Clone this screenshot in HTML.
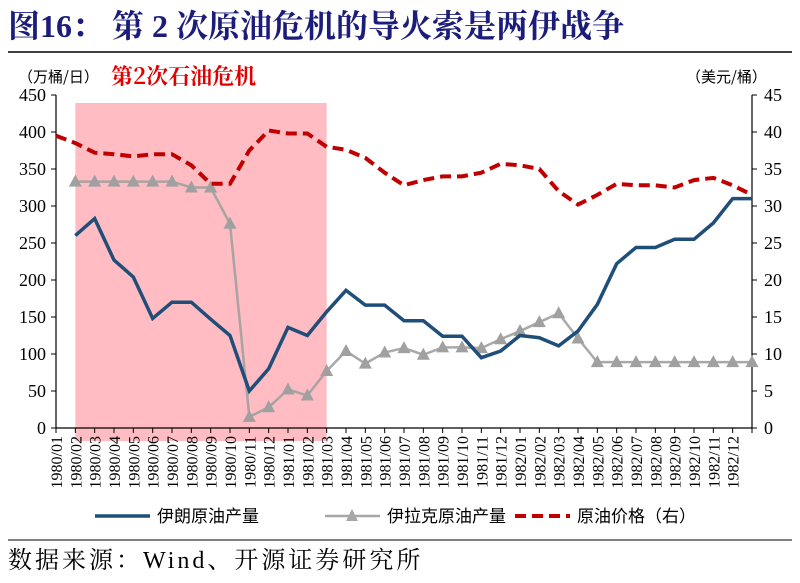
<!DOCTYPE html>
<html><head><meta charset="utf-8"><style>
body{margin:0;background:#fff;width:800px;height:578px;overflow:hidden;font-family:"Liberation Serif","Noto Serif CJK SC",serif}
</style></head><body>
<svg width="800" height="578" xmlns="http://www.w3.org/2000/svg">
<text x="8" y="37" font-size="32" font-weight="bold" fill="#1c1c7a" font-family="Liberation Serif,Noto Serif CJK SC,serif">图16：&#160;第 2 次原油危机的导火索是两伊战争</text>
<line x1="8" y1="52" x2="792" y2="52" stroke="#000" stroke-width="1.5"/>
<text x="18" y="82" font-size="15" fill="#000" font-family="Noto Sans CJK SC,sans-serif">（万桶/日）</text>
<text x="111" y="84" font-size="22" font-weight="bold" fill="#e00000" font-family="Noto Serif CJK SC,serif">第2次石油危机</text>
<text x="686" y="82" font-size="15" fill="#000" font-family="Noto Sans CJK SC,sans-serif">（美元/桶）</text>
<g id="plot"></g>
<line x1="8" y1="540" x2="792" y2="540" stroke="#000" stroke-width="1"/>
<text x="8" y="568" font-size="24" letter-spacing="3" fill="#000" font-family="Liberation Serif,Noto Serif CJK SC,serif">数据来源：Wind、开源证券研究所</text>
</svg>
<script>
const categories=["1980/01","1980/02","1980/03","1980/04","1980/05","1980/06","1980/07","1980/08","1980/09","1980/10","1980/11","1980/12","1981/01","1981/02","1981/03","1981/04","1981/05","1981/06","1981/07","1981/08","1981/09","1981/10","1981/11","1981/12","1982/01","1982/02","1982/03","1982/04","1982/05","1982/06","1982/07","1982/08","1982/09","1982/10","1982/11","1982/12",""];
const iranOutput=[null,260,283,227,204,148,170,170,147,125,50,80,136,125,157,186,166,166,145,145,124,124,95,104,125,122,111,131,167,222,244,244,255,255,277,310,310];
const iraqOutput=[null,333,333,333,333,333,333,325,325,276,15,28,52,44,77,104,87,102,108,99,109,109,108,120,131,143,155,121,89,89,89,89,89,89,89,89,89];
const oilPrice=[39.5,38.5,37.2,37,36.7,37,37,35.5,33,33,37.5,40.2,39.8,39.8,38,37.6,36.5,34.5,32.8,33.5,34,34,34.5,35.7,35.5,35,32,30.2,31.5,33,32.8,32.8,32.5,33.5,33.8,32.8,31.5];
const leftTicks=[0,50,100,150,200,250,300,350,400,450];
const rightTicks=[0,5,10,15,20,25,30,35,40,45];
const crisisRange=["1980/02","1981/03"];
const NS="http://www.w3.org/2000/svg";
const X0=56,X1=752,Y0=428,Y1=95;
const xs=i=>X0+i*(X1-X0)/(categories.length-1);
const yl=v=>Y0-v*(Y0-Y1)/450;
const yr=v=>Y0-v*(Y0-Y1)/45;
const g=document.getElementById('plot');
function mk(t,a){const e=document.createElementNS(NS,t);for(const k in a)e.setAttribute(k,a[k]);g.appendChild(e);return e;}
let a=categories.indexOf(crisisRange[0]),b=categories.indexOf(crisisRange[1]);
let sh=mk('rect',{x:xs(a),y:103,width:xs(b)-xs(a),height:338,fill:'#ffbcc2'});


let ax=mk('path',{d:`M${X0},${Y1}V${Y0}H${X1}V${Y1}`,stroke:'#000','stroke-width':1.2,fill:'none'});


leftTicks.forEach(v=>{mk('line',{x1:X0-5,x2:X0,y1:yl(v),y2:yl(v),stroke:'#000'});
 const t=mk('text',{x:X0-10,y:yl(v)+6,'text-anchor':'end','font-size':18});t.textContent=v;
 
 });
rightTicks.forEach(v=>{mk('line',{x1:X1,x2:X1+5,y1:yr(v),y2:yr(v),stroke:'#000'});
 const t=mk('text',{x:X1+12,y:yr(v)+6,'font-size':18});t.textContent=v;
 
 });
categories.forEach((c,i)=>{mk('line',{x1:xs(i),x2:xs(i),y1:Y0,y2:Y0+5,stroke:'#000'});
 if(c){const t=mk('text',{transform:`translate(${xs(i)+6},${Y0+8}) rotate(-90)`,'text-anchor':'end','font-size':16});t.textContent=c;
 
 }});
function pts(arr,f){return arr.map((v,i)=>v==null?null:[xs(i),f(v)]).filter(p=>p);}
function line(arr,f,attrs,name){const p=pts(arr,f);const e=mk('polyline',Object.assign({points:p.map(q=>q.join(',')).join(' '),fill:'none'},attrs));
 
 return p;}
const gp=line(iraqOutput,yl,{stroke:'#a0a0a0','stroke-width':2.5,opacity:0.9},'iraq-line');
gp.forEach(p=>{const t=mk('polygon',{points:`${p[0]},${p[1]-7} ${p[0]-6.5},${p[1]+5} ${p[0]+6.5},${p[1]+5}`,fill:'#a0a0a0'});
 
 });
line(iranOutput,yl,{stroke:'#1f4e79','stroke-width':3.5},'iran-line');
line(oilPrice,yr,{stroke:'#c00000','stroke-width':4,'stroke-dasharray':'11,6'},'price-line');
const L=[[95,'iran',{stroke:'#1f4e79','stroke-width':3.5},'伊朗原油产量'],[325,'iraq',{stroke:'#a6a6a6','stroke-width':2.5},'伊拉克原油产量'],[515,'price',{stroke:'#c00000','stroke-width':4,'stroke-dasharray':'11,6'},'原油价格（右）']];
L.forEach(([x,k,st,lab])=>{const l=mk('line',Object.assign({x1:x,x2:x+55,y1:516,y2:516},st));
 
 
 if(k==='iraq'){mk('polygon',{points:`${x+27},509 ${x+21},521 ${x+33},521`,fill:'#a6a6a6'});}
 const t=mk('text',{x:x+62,y:522,'font-size':17,'font-family':'Noto Sans CJK SC,sans-serif'});t.textContent=lab;
 
 });
</script>
</body></html>
